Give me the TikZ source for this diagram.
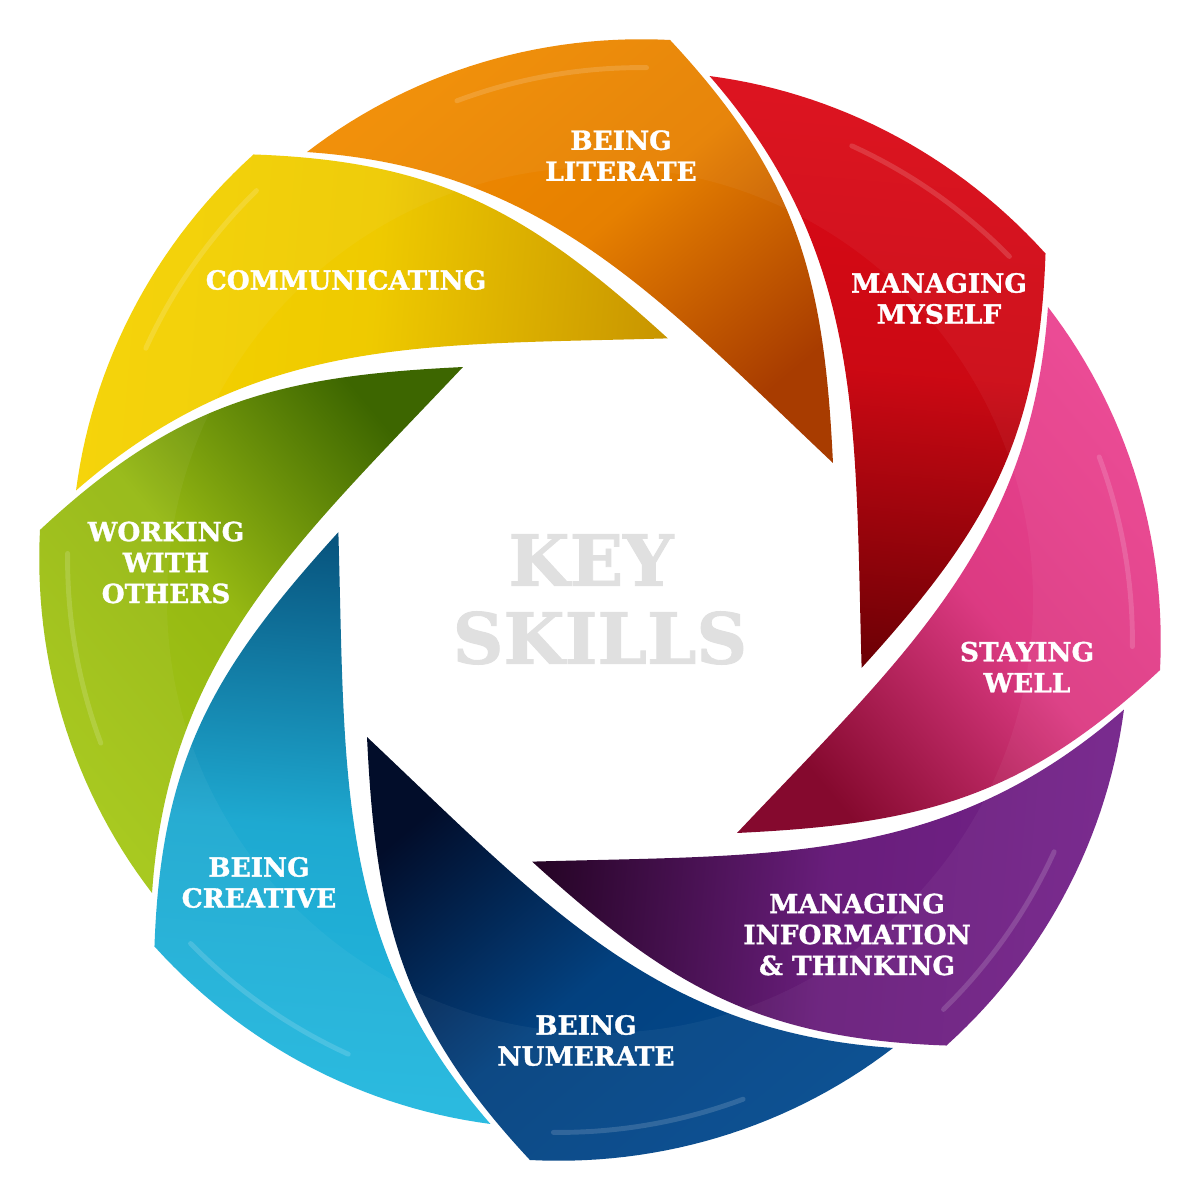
\documentclass[tikz,border=0pt]{standalone}
\usepackage{fontspec}
\setmainfont{DejaVu Serif}
\newfontface\heavy{DejaVu Serif Bold}[FakeBold=1.2]
\definecolor{orL}{HTML}{F18C00}\definecolor{orD}{HTML}{A83C00}
\definecolor{yeL}{HTML}{F5D300}\definecolor{yeD}{HTML}{C99600}
\definecolor{grL}{HTML}{A5C716}\definecolor{grD}{HTML}{3D6600}
\definecolor{blL}{HTML}{22B8DF}\definecolor{blD}{HTML}{08557F}
\definecolor{nvL}{HTML}{034A8E}\definecolor{nvD}{HTML}{020D2A}
\definecolor{puL}{HTML}{74228A}\definecolor{puD}{HTML}{260426}
\definecolor{pkL}{HTML}{EB4391}\definecolor{pkD}{HTML}{85092E}
\definecolor{rdL}{HTML}{DC0A16}\definecolor{rdD}{HTML}{6E0005}
\definecolor{ksgray}{HTML}{E0E0E0}
\newcommand\drawblade[3]{%
  \pgfmathsetmacro\shang{#1+40}%
  \shade[left color=#2, right color=#3, middle color=#2!85!#3, shading angle=\shang]
    (#1+82.87:564.4) .. controls (#1+64.97:467.1) and (#1+55.25:393.2) .. (#1+30.46:270.3)
    .. controls (#1+79.66:309.6) and (#1+97.52:435.7) .. (#1+123.19:535.3)
    -- plot[domain=123.19:82.87,samples=30,variable=\ang] ({#1+\ang}:{564.4-0.7217*(\ang-82.87)})
    -- cycle;
  \draw[white, opacity=0.15, line width=1.4pt, line cap=round]
    plot[domain=85:106,samples=20,variable=\ang] ({#1+\ang}:{536-0.7217*(\ang-82.87)});
}
\begin{document}
\begin{tikzpicture}[x=0.01cm,y=0.01cm,
  lab/.style={text=white, font=\heavy\fontsize{7.5}{8.8}\selectfont, align=center, inner sep=0pt},
  ks/.style={text=ksgray, font=\heavy\fontsize{20}{22}\selectfont, inner sep=0pt}]
\useasboundingbox[fill=white] (-600,-600) rectangle (600,600);
\drawblade{0}{orL}{orD}
\drawblade{45}{yeL}{yeD}
\drawblade{90}{grL}{grD}
\drawblade{135}{blL}{blD}
\drawblade{180}{nvL}{nvD}
\drawblade{225}{puL}{puD}
\drawblade{270}{pkL}{pkD}
\drawblade{315}{rdL}{rdD}
\fill[white, opacity=0.045, even odd rule] (0,0) circle (570) (0,0) circle (433);
\node[lab] (lit) at (21,444.5) {BEING\\LITERATE};
\node[lab] (com) at (-254,320) {COMMUNICATING};
\node[lab] (mys) at (339,301.5) {MANAGING\\MYSELF};
\node[lab] (wel) at (427,-67) {STAYING\\WELL};
\node[lab] (inf) at (257,-334.5) {MANAGING\\INFORMATION\\\&~THINKING};
\node[lab] (num) at (-14,-440.5) {BEING\\NUMERATE};
\node[lab] (cre) at (-341,-282.5) {BEING\\CREATIVE};
\node[lab] (wor) at (-434,37.5) {WORKING\\WITH\\OTHERS};
\node[ks] (key) at (-9,40) {KEY};
\node[ks] (ski) at (0,-38) {SKILLS};
\end{tikzpicture}
\end{document}
